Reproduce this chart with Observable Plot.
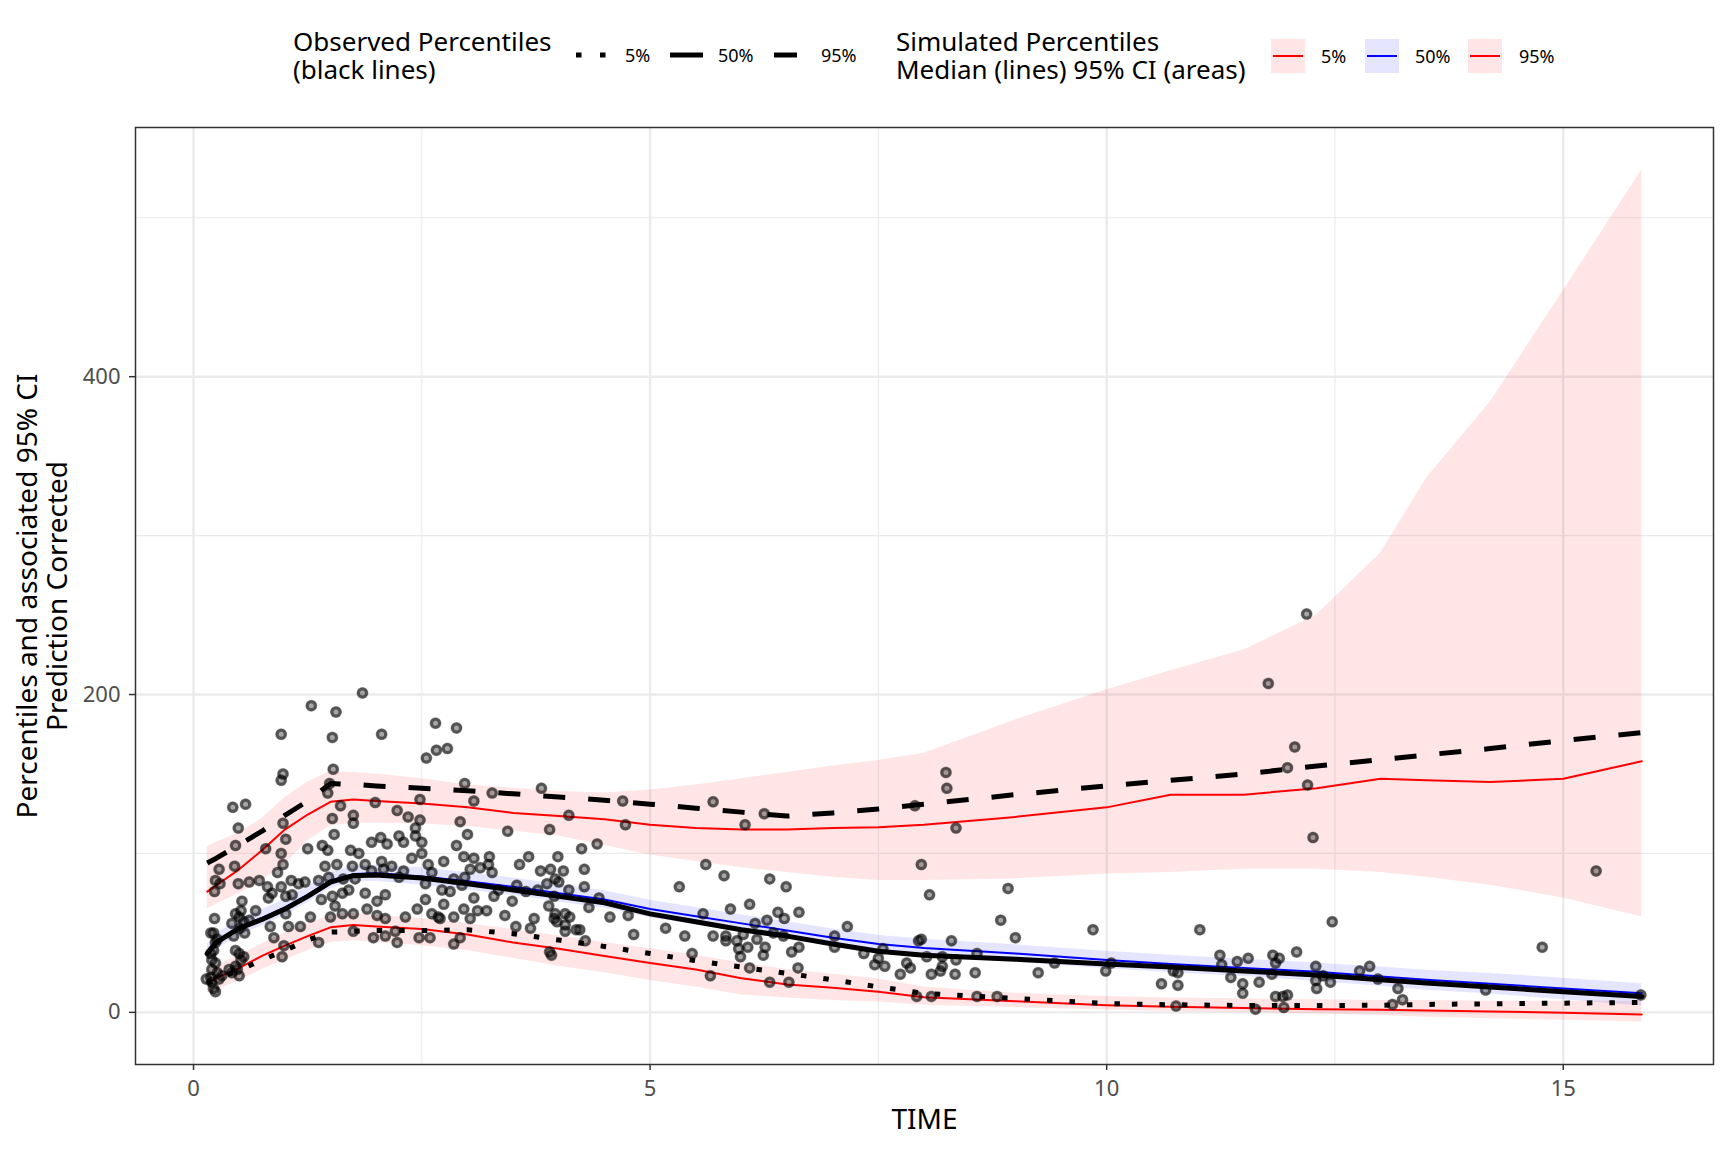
<!DOCTYPE html>
<html><head><meta charset="utf-8">
<script src="https://cdn.jsdelivr.net/npm/d3@7"></script>
<script src="https://cdn.jsdelivr.net/npm/@observablehq/plot@0.6"></script>
<style>
body{margin:0;background:#fff;font-family:"Noto Sans",sans-serif;}
#wrap{position:relative;width:1728px;height:1152px;background:#fff;overflow:hidden}
#legend{position:absolute;left:0;top:0}
#chart{position:absolute;left:0;top:100px}
.ltitle{position:absolute;top:27px;font-family:"Noto Sans",sans-serif;font-size:26px;line-height:28px;color:#000;white-space:nowrap}
#chart [aria-label="x-axis tick label"], #chart [aria-label="y-axis tick label"]{fill:#4d4d4d}
</style></head><body>
<div id="wrap"><svg id="legend" width="1728" height="100"></svg>
<div class="ltitle" id="obsTitle" style="left:293px"></div>
<div class="ltitle" id="simTitle" style="left:896px"></div>
<div id="chart"></div></div>
<script>
// ---- data ----
const TIME_BINS = [0.15,0.25,0.5,0.75,1.0,1.25,1.5,1.75,2.0,2.5,3.0,3.5,4.0,4.5,5.0,5.5,6.0,6.5,7.0,7.5,8.0,9.0,10.0,10.7,11.5,12.3,13.0,13.5,14.2,15.0,15.86];
const obs05 = [18,21,26.5,33,39,45.5,50.5,51,51.5,51.5,52,49.5,45.5,41.5,37,32.5,28.5,24.5,20.5,16,12,8.7,5.5,4.8,4.3,4.3,4.5,5,5.4,5.8,6.3];
const obs50 = [37,44,53,58.5,65,73,82,86,86.5,84.5,81,77,73,69,62,57,52,48,43,38.5,36,33.5,30.5,28.5,26,23.5,20.5,18.5,16,13,10];
const obs95 = [94,97,105.5,114,124,133,144,143.5,142.5,141,139.5,137.5,135.5,133.5,131,128.5,126,123.5,125.5,128,131,137,142.5,146,150,155,159,162,166,171,176];
const sim05 = [18.5,21.5,28,35.5,42,48,53.5,55,54,52.5,49,44,40,35.5,31,27,21.5,17.5,15.5,13,9.5,7,4.5,3.5,2.8,2,1.6,1.2,0.6,-0.2,-1.3];
const sim05Lo = [12,14,20,27,33,39,44,45,44,42,39,34,29,25,20,16,11,9,7.5,6.5,4.5,3,1.5,0.5,0,-1,-2,-3,-4,-5,-6];
const sim05Hi = [26,29,36,43,50,56,61,62,61,59,56,52,48,44,40,36,31,27,24,21,16,12,10,9,8.5,8,7.5,7.5,7,7,7];
const sim50 = [38,44.5,53.5,59.5,66,74,83,87,87.5,85.5,82.5,79,75,71,65,60.5,56,51.5,47,43,40.5,37,33,30.5,28,25.5,22.5,20.5,18,15,12];
const sim50Lo = [33,39.5,48.5,54.5,61,69,78,82,82.5,80,77,73.5,69.5,65.5,59.5,55,50.5,46,41.5,37.5,35,31.5,27.5,25,22.5,19.5,16.5,14,11.5,8,4];
const sim50Hi = [43,49.5,58.5,64.5,71,79,88,92,92.5,91,88,84.5,80.5,76.5,70.5,66,61.5,57,52.5,48.5,46,42.5,38.5,36,33.5,31,28.5,26.5,24.5,21.5,18];
const sim95 = [76,80,90,102,115,124.5,132.5,134,133,131.5,129,125.5,123.5,121.5,118,116,115,115,116,116.5,118,123,129,137,137,141,147,146,145,147,158];
const sim95Lo = [65,68,75,83,93,108,117.5,119,119,118.5,117,114,111,105,99,95,91,88,85,83,83,84,87,88,90,90,88,85,80,72,60];
const sim95Hi = [104,107,113,122,135,145,151.5,151,150,147,143,141,139,138,140,143,147,151,155,158.5,163,184,203,215,228,250,289,336,384,454,530];

const obsPoints = [
[1.85,201],[1.29,193],[1.56,189],[0.96,175],[1.52,173],[2.06,175],[2.65,182],[2.88,179],[2.66,165],[2.78,166],[2.55,160],
[0.98,150],[0.96,146],[1.53,153],[1.49,144],[0.43,129],[0.57,131],[1.47,138],[1.61,130],[1.99,132],[2.48,134],
[1.52,122],[1.75,124],[1.75,119],[2.23,127],[2.35,123],[2.48,121],[0.49,116],[0.98,119],
[0.46,105],[1.01,109],[0.79,103],[0.96,100],[1.25,103],[1.41,105],[1.54,112],[1.47,102],[1.72,102],[1.81,100],[1.95,107],[2.05,110],[2.12,106],[2.25,111],[2.30,107],[2.43,116],[2.43,111],[2.50,107],[2.39,97],[2.50,100],
[0.45,92],[0.28,90],[0.24,83],[0.29,81],[0.23,76],[0.49,81],[0.61,82],[0.72,83],[0.92,88],[0.98,93],[0.81,79],[0.96,79],[1.07,83],[1.15,81],[1.22,82],[1.37,83],[0.82,72],[0.86,75],[1.01,73],[1.08,74],
[1.44,92],[1.57,93],[1.48,85],[1.64,84],[1.74,92],[1.77,84],[1.88,93],[1.95,89],[2.06,95],[2.08,90],[2.17,92],[2.25,85],[2.30,89],[2.57,93],[2.61,88],[2.54,81],[2.74,95],
[1.40,71],[1.52,73],[1.63,75],[1.70,77],[1.55,67],[1.63,62],[1.75,62],[1.88,75],[1.90,65],[2.01,70],[2.10,74],[2.01,61],[2.10,59],[2.32,60],[2.45,65],[2.54,71],[2.61,62],[2.68,60],
[0.53,70],[0.68,64],[0.46,62],[0.42,56],[0.51,53],[0.61,58],[0.23,59],[0.84,54],[1.01,62],[1.04,54],[1.17,54],[1.28,60],[0.88,47],[0.99,42],[0.97,35],[1.37,44],[1.50,60],[1.75,51],[1.97,47],[2.10,48],[2.23,44],[2.21,51],[2.47,47],[2.59,47],
[0.46,39],[0.50,37],[0.48,27],[0.50,23],[0.42,25],[0.24,44],[0.22,39],[0.20,33],[0.20,27],[0.14,21],[0.24,13],[0.20,19],[0.26,25],[0.26,46],[0.19,50],[0.22,50],[0.19,37],[0.24,31],[0.19,22],[0.28,21],[0.22,15],[0.31,23],[0.39,27],[0.46,29],
[0.50,60],[0.55,57],[0.52,64],[0.44,48],[0.56,50],[0.52,33],[0.55,35],
[2.97,144],[3.27,138],[3.07,133],[3.81,141],[4.70,133],[4.11,124],[4.73,118],[2.92,120],[3.00,112],[3.44,114],[3.90,115],[2.88,105],[4.25,103],[4.42,106],
[2.96,98],[3.07,97],[3.24,98],[3.23,93],[3.14,91],[3.03,90],[3.27,88],[3.57,93],[3.67,98],[3.99,98],[4.28,90],[3.80,89],[3.91,90],[4.05,89],[3.96,84],[4.00,82],[3.87,81],[3.54,80],[2.85,84],[2.97,85],[2.94,80],[2.72,77],[2.81,76],
[3.07,72],[3.29,73],[3.34,77],[3.49,70],[3.64,76],[3.77,77],[3.95,73],[4.11,77],[4.28,79],[4.44,72],[4.33,66],
[2.74,68],[2.96,65],[3.11,64],[3.21,64],[3.41,61],[2.85,60],[3.03,59],[2.70,59],[3.89,67],[3.96,62],[4.07,62],[4.12,60],[3.95,59],[3.98,57],[4.07,55],[3.73,59],[3.53,54],[3.69,53],[4.07,51],[4.19,52],[4.23,52],[4.56,60],[4.76,61],[4.82,49],
[2.92,47],[2.85,43],[3.90,38],[3.92,36],[4.29,45],
[5.69,132.5],[6.25,125],[6.04,118],[7.90,130],[8.24,151],[8.25,141],[8.35,116],[7.97,93],[8.06,74],[5.61,93],[5.81,86],[5.32,79],[6.31,84],[6.49,79],[8.92,78],[8.84,58],[9.00,47],[9.85,52],
[5.58,62],[5.88,65],[6.09,68],[6.40,63],[6.47,59],[6.63,63],[6.28,58],[6.15,56],[7.16,54],[7.02,48],[5.17,53],[5.38,48],[5.69,48],[5.83,48],[5.83,45],[5.95,45],[6.02,49],[6.17,46],[6.35,50],[6.46,48],
[5.97,40],[6.07,41],[6.26,41],[6.24,36],[5.99,35],[6.55,38],[6.63,41],[5.46,37],[7.02,41],[7.34,37],[7.55,40],[7.50,34],[7.46,30],[7.57,29],[7.81,31],[7.85,28],[7.74,24],[7.94,45],[7.97,46],[8.03,35],[8.30,45],[8.20,35],[8.35,33],[8.20,29],[8.18,26],[8.08,24],[8.34,24],[8.58,37],[8.56,25],[9.25,25],[9.43,31],
[5.66,23],[6.09,28],[6.62,28],[6.31,19],[6.52,19],[7.92,10],[8.08,10],[8.58,10],[8.80,10],
[12.19,250.6],[11.77,207],[12.06,167],[11.98,154],[12.20,143],[12.26,110],[12.47,57],[11.02,52],[11.24,36],[11.26,30],[11.43,32],[11.55,34],[11.82,36],[11.89,34],[11.85,31],[12.08,38],[12.29,29],[12.37,23],[12.29,20],[12.30,15],[12.45,19],[12.77,26],[12.88,29],[12.97,21],[13.19,15],[13.24,8],[13.13,5],
[9.99,26],[10.05,31],[10.60,18],[10.73,26],[10.78,25],[10.78,17],[11.36,22],[11.49,18],[11.49,12],[11.67,19],[11.81,24],[11.85,10],[11.93,10],[11.98,11],[10.76,4],[11.63,2],[11.94,3],
[14.15,14],[14.77,41],[15.36,89],[15.85,11]
];

const xMajor = [0,5,10,15];
const xMinor = [2.5,7.5,12.5];
const yMajor = [0,200,400];
const yMinor = [100,300,500];
const xTitle = "TIME";
const yTitle = "Percentiles and associated 95% CI\nPrediction Corrected";
const obsLegendTitle = ["Observed Percentiles","(black lines)"];
const simLegendTitle = ["Simulated Percentiles","Median (lines) 95% CI (areas)"];
const legendLabels = ["5%","50%","95%"];

// ---- build tables ----
const rows = TIME_BINS.map((t,i)=>({t,
  obs05:obs05[i],obs50:obs50[i],obs95:obs95[i],
  sim05:sim05[i],sim05Lo:sim05Lo[i],sim05Hi:sim05Hi[i],
  sim50:sim50[i],sim50Lo:sim50Lo[i],sim50Hi:sim50Hi[i],
  sim95:sim95[i],sim95Lo:sim95Lo[i],sim95Hi:sim95Hi[i]}));
const pts = obsPoints.map(([t,v])=>({t,v}));

const FONT = '"Noto Sans", sans-serif';
const RED = "#ff0000", BLUE = "#0000ff";

const chart = Plot.plot({
  width:1728, height:1052,
  marginTop:27, marginBottom:88, marginLeft:135, marginRight:15,
  style:{fontFamily:FONT, background:"#fff", overflow:"visible"},
  x:{domain:[-0.6355,16.6455]},
  y:{domain:[-32.8,556.8]},
  marks:[
    Plot.ruleX(xMinor,{stroke:"#ebebeb",strokeWidth:1.2}),
    Plot.ruleY(yMinor,{stroke:"#ebebeb",strokeWidth:1.2}),
    Plot.ruleX(xMajor,{stroke:"#ebebeb",strokeWidth:2.4}),
    Plot.ruleY(yMajor,{stroke:"#ebebeb",strokeWidth:2.4}),
    Plot.areaY(rows,{x:"t",y1:"sim05Lo",y2:"sim05Hi",fill:RED,fillOpacity:0.1}),
    Plot.areaY(rows,{x:"t",y1:"sim50Lo",y2:"sim50Hi",fill:BLUE,fillOpacity:0.1}),
    Plot.areaY(rows,{x:"t",y1:"sim95Lo",y2:"sim95Hi",fill:RED,fillOpacity:0.1}),
    Plot.lineY(rows,{x:"t",y:"sim05",stroke:RED,strokeWidth:2}),
    Plot.lineY(rows,{x:"t",y:"sim50",stroke:BLUE,strokeWidth:2}),
    Plot.lineY(rows,{x:"t",y:"sim95",stroke:RED,strokeWidth:2}),
    Plot.dot(pts,{x:"t",y:"v",r:6,fill:"#000",fillOpacity:0.35,stroke:"none"}),
    Plot.dot(pts,{x:"t",y:"v",r:4,fill:"none",stroke:"#000",strokeOpacity:0.5,strokeWidth:3}),
    Plot.lineY(rows,{x:"t",y:"obs05",stroke:"#000",strokeWidth:5,strokeDasharray:"5.5,17",strokeLinecap:"butt"}),
    Plot.lineY(rows,{x:"t",y:"obs50",stroke:"#000",strokeWidth:5}),
    Plot.lineY(rows,{x:"t",y:"obs95",stroke:"#000",strokeWidth:5,strokeDasharray:"22,23",strokeLinecap:"butt"}),
    Plot.frame({stroke:"#333",strokeWidth:1.5}),
    Plot.axisX({ticks:xMajor,tickSize:6,tickPadding:10,fontSize:22,label:null,stroke:"#333",fill:"#4d4d4d",strokeWidth:1.5}),
    Plot.axisY({ticks:yMajor,tickSize:6,tickPadding:9,fontSize:22,label:null,stroke:"#333",fill:"#4d4d4d",strokeWidth:1.5}),
    Plot.text([xTitle],{text:d=>d,frameAnchor:"bottom",dy:56,fontSize:28,lineAnchor:"middle",textAnchor:"middle",fill:"#000"}),
    Plot.text([yTitle],{text:d=>d,frameAnchor:"left",rotate:-90,dx:-93,fontSize:28,lineAnchor:"middle",textAnchor:"middle",lineHeight:1.07,fill:"#000"})
  ]
});
document.getElementById("chart").append(chart);

// ---- legend ----
document.getElementById("obsTitle").innerHTML = obsLegendTitle.join("<br>");
document.getElementById("simTitle").innerHTML = simLegendTitle.join("<br>");
const L = d3.select("#legend");
function txt(x,y,s,size){
  L.append("text").attr("x",x).attr("y",y).attr("dominant-baseline","central")
   .attr("font-family",FONT).attr("font-size",size).attr("fill","#000").text(s);
}
// observed keys
L.append("line").attr("x1",576).attr("x2",610).attr("y1",55).attr("y2",55)
  .attr("stroke","#000").attr("stroke-width",5).attr("stroke-dasharray","5.5,18.5");
txt(625,55,legendLabels[0],18);
L.append("line").attr("x1",670).attr("x2",703).attr("y1",55).attr("y2",55)
  .attr("stroke","#000").attr("stroke-width",5);
txt(718,55,legendLabels[1],18);
L.append("line").attr("x1",774).attr("x2",808).attr("y1",55).attr("y2",55)
  .attr("stroke","#000").attr("stroke-width",5).attr("stroke-dasharray","23,23");
txt(821,55,legendLabels[2],18);
// simulated keys
const simKeys = [
  {x:1271, lab:1321, col:RED},
  {x:1365, lab:1415, col:BLUE},
  {x:1468, lab:1519, col:RED}
];
simKeys.forEach((k,i)=>{
  L.append("rect").attr("x",k.x).attr("y",39).attr("width",34).attr("height",34)
    .attr("fill",k.col).attr("fill-opacity",0.1);
  L.append("line").attr("x1",k.x+2).attr("x2",k.x+32).attr("y1",56).attr("y2",56)
    .attr("stroke",k.col).attr("stroke-width",2);
  txt(k.lab,56,legendLabels[i],18);
});
</script></body></html>
